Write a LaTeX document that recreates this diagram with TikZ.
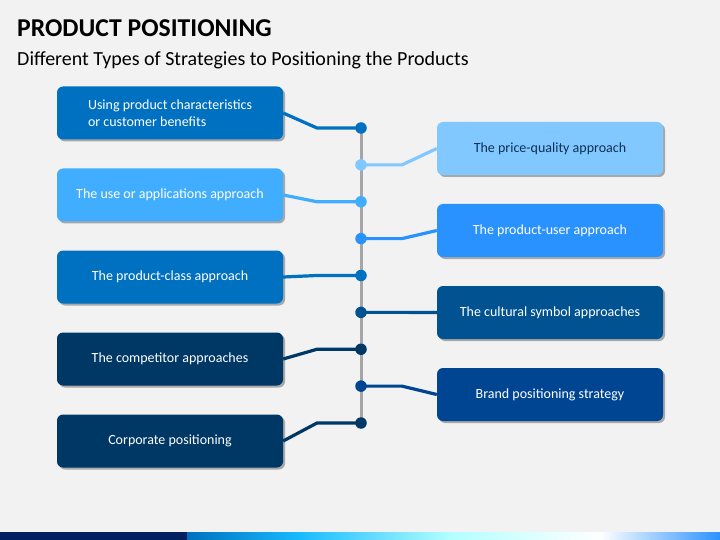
\documentclass[tikz,border=0pt]{standalone}
\usepackage{fontspec}
\setmainfont{Carlito}
\usepackage{xcolor}
\usetikzlibrary{shadows}
\definecolor{pagegray}{HTML}{F2F2F2}
\definecolor{spinegray}{HTML}{A6A6A6}
\definecolor{blueA}{HTML}{0070C0}
\definecolor{blueB}{HTML}{41ADFF}
\definecolor{skyA}{HTML}{80C8FF}
\definecolor{blueC}{HTML}{2A92FF}
\definecolor{blueD}{HTML}{005291}
\definecolor{blueE}{HTML}{004591}
\definecolor{navyA}{HTML}{003865}
\definecolor{navyT}{HTML}{0F2F55}
\definecolor{barnavy}{HTML}{002060}
\tikzstyle{strat} = [rectangle, rounded corners=6pt, minimum width=226pt, minimum height=53pt, inner sep=3pt, text=white, font=\fontsize{14}{17}\selectfont, drop shadow={shadow xshift=2pt, shadow yshift=-2pt, opacity=0.3, fill=black}]
\tikzstyle{dot} = [circle, inner sep=0pt, minimum size=11.5pt]
\tikzstyle{link} = [line width=3.2pt]

\begin{document}
\begin{tikzpicture}[x=1pt,y=-1pt,node distance=82pt]
  \useasboundingbox[fill=pagegray] (0,0) rectangle (720,540);
  \node[anchor=base west, inner sep=0pt, font=\bfseries\fontsize{25.7}{30}\selectfont] (title) at (17,37) {PRODUCT POSITIONING};
  \node[anchor=base west, inner sep=0pt, font=\fontsize{20}{24}\selectfont] (subtitle) at (17,66) {Different Types of Strategies to Positioning the Products};

  \node[strat, fill=blueA, align=left] (L1) at (170,113) {Using product characteristics\\or customer benefits};
  \node[strat, fill=blueB] (L2) [below of=L1] {The use or applications approach};
  \node[strat, fill=blueA] (L3) [below of=L2] {The product-class approach};
  \node[strat, fill=navyA] (L4) [below of=L3] {The competitor approaches};
  \node[strat, fill=navyA] (L5) [below of=L4] {Corporate positioning};

  \node[strat, fill=skyA, text=navyT] (R1) at (550,148.5) {The price-quality approach};
  \node[strat, fill=blueC] (R2) [below of=R1] {The product-user approach};
  \node[strat, fill=blueD] (R3) [below of=R2] {The cultural symbol approaches};
  \node[strat, fill=blueE] (R4) [below of=R3] {Brand positioning strategy};

  \coordinate (lx) at (317,0);
  \coordinate (rx) at (402,0);
  \foreach \i in {1,...,9}
    \coordinate (p\i) at (361,{128+36.875*(\i-1)});

  \draw[spinegray, line width=3pt] (p1) -- (p9);

  \draw[link, blueA] (L1.east) -- (lx |- p1) -- (p1);
  \draw[link, skyA] (R1.west) -- (rx |- p2) -- (p2);
  \draw[link, blueB] (L2.east) -- (lx |- p3) -- (p3);
  \draw[link, blueC] (R2.west) -- (rx |- p4) -- (p4);
  \draw[link, blueA] (L3.east) -- (lx |- p5) -- (p5);
  \draw[link, blueD] (R3.west) -- (rx |- p6) -- (p6);
  \draw[link, navyA] (L4.east) -- (lx |- p7) -- (p7);
  \draw[link, blueE] (R4.west) -- (rx |- p8) -- (p8);
  \draw[link, navyA] (L5.east) -- (lx |- p9) -- (p9);

  \foreach \i/\c in {1/blueA,2/skyA,3/blueB,4/blueC,5/blueA,6/blueD,7/navyA,8/blueE,9/navyA}
    \node[dot, fill=\c] (d\i) at (p\i) {};

  % bottom colour band
  \fill[barnavy] (0,532) rectangle (187,540);
  \shade[left color=blueA, right color=cyan!70!blue!90!white] (187,532) rectangle (300,540);
  \shade[left color=cyan!70!blue!90!white, right color=cyan!30!white] (300,532) rectangle (450,540);
  \shade[left color=cyan!30!white, right color=white] (450,532) rectangle (600,540);
  \shade[left color=white, right color=blueC] (600,532) rectangle (720,540);
\end{tikzpicture}
\end{document}
